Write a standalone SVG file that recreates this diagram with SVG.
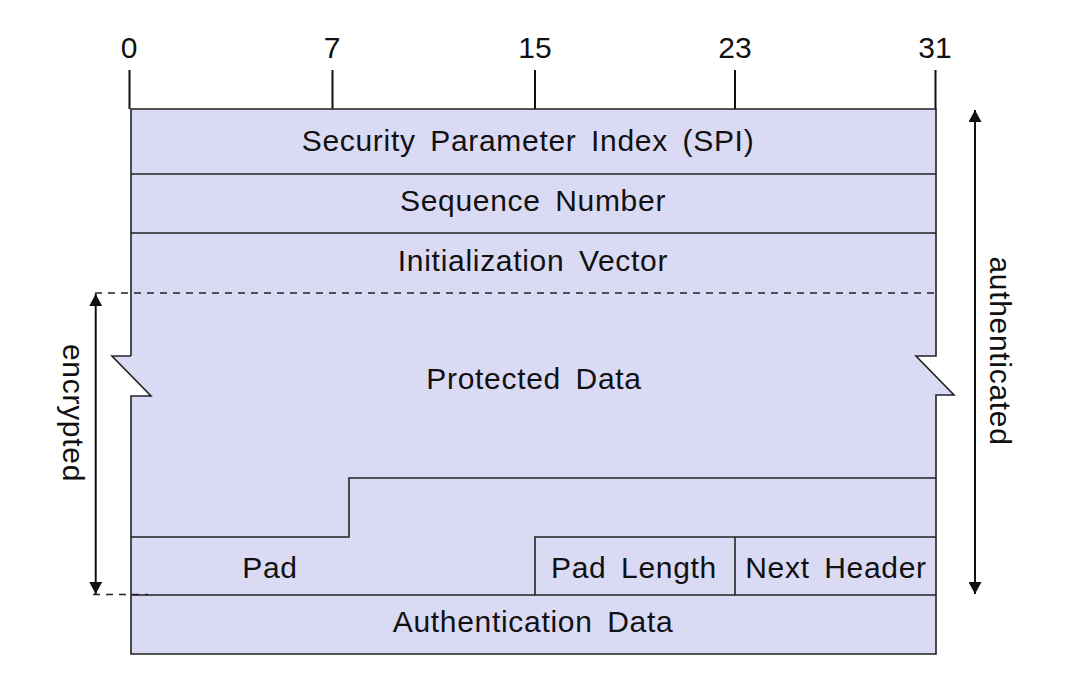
<svg xmlns="http://www.w3.org/2000/svg" width="1068" height="691" viewBox="0 0 1068 691">
<style>
.t{font-family:"Liberation Sans",Arial,sans-serif;font-size:30px;fill:#111;letter-spacing:0.7px;word-spacing:5.5px;text-anchor:middle}
.n{letter-spacing:0;word-spacing:0}
.ln{stroke:#222;stroke-width:1.6;fill:none}
.dash{stroke:#222;stroke-width:1.4;stroke-dasharray:7,6;fill:none}
.ax{stroke:#111;stroke-width:2;fill:none}
</style>
<defs>
<marker id="ah" viewBox="0 0 12 13" refX="12" refY="6.5" markerWidth="12" markerHeight="13" markerUnits="userSpaceOnUse" orient="auto-start-reverse">
<path d="M0,0 L12,6.5 L0,13 Z" fill="#111"/>
</marker>
</defs>
<rect width="1068" height="691" fill="#fff"/>
<g id="ruler">
<line class="ax" x1="129.5" y1="70" x2="129.5" y2="109"/>
<line class="ax" x1="332.5" y1="70" x2="332.5" y2="109"/>
<line class="ax" x1="535" y1="70" x2="535" y2="109"/>
<line class="ax" x1="735" y1="70" x2="735" y2="109"/>
<line class="ax" x1="935.5" y1="70" x2="935.5" y2="109"/>
<text class="t n" x="129" y="58">0</text>
<text class="t n" x="332" y="58">7</text>
<text class="t n" x="535" y="58">15</text>
<text class="t n" x="735" y="58">23</text>
<text class="t n" x="935" y="58">31</text>
</g>
<g id="body">
<path d="M131,109 H936 V356 H916 L954,395 H936 V654 H131 V396 H151 L112,356 H131 Z" fill="#dadaf5" stroke="none"/>
<path class="ln" d="M131,356 V109 H936 V356 H916 L954,395 H936 V654 H131 V396 H151 L112,356 H131"/>
</g>
<g id="spi"><line class="ln" x1="131" y1="174" x2="936" y2="174"/><text class="t" x="528" y="151">Security Parameter Index (SPI)</text></g>
<g id="seq"><line class="ln" x1="131" y1="233" x2="936" y2="233"/><text class="t" x="533" y="211">Sequence Number</text></g>
<g id="iv"><text class="t" x="533" y="271">Initialization Vector</text></g>
<g id="data"><text class="t" x="534" y="389">Protected Data</text></g>
<g id="step"><path class="ln" d="M131,537 H349 V478 H936"/></g>
<g id="pad"><text class="t" x="270" y="578">Pad</text></g>
<g id="padlen"><path class="ln" d="M535,595 V537 H936"/><text class="t" x="634" y="578">Pad Length</text></g>
<g id="nexthdr"><line class="ln" x1="735" y1="537" x2="735" y2="595"/><text class="t" x="836" y="578">Next Header</text></g>
<g id="auth"><line class="ln" x1="131" y1="595" x2="936" y2="595"/><text class="t" x="533" y="632">Authentication Data</text></g>
<g id="connectors">
<line class="dash" x1="95" y1="293" x2="936" y2="293"/>
<line class="dash" x1="93" y1="594.5" x2="148" y2="594.5"/>
<line class="ax" x1="95.7" y1="294" x2="95.7" y2="594" marker-start="url(#ah)" marker-end="url(#ah)"/>
<line class="ax" x1="975" y1="110" x2="975" y2="594" marker-start="url(#ah)" marker-end="url(#ah)"/>
</g>
<g id="labels">
<text class="t" transform="translate(63,413) rotate(90)">encrypted</text>
<text class="t" transform="translate(990,351) rotate(90)">authenticated</text>
</g>
</svg>
